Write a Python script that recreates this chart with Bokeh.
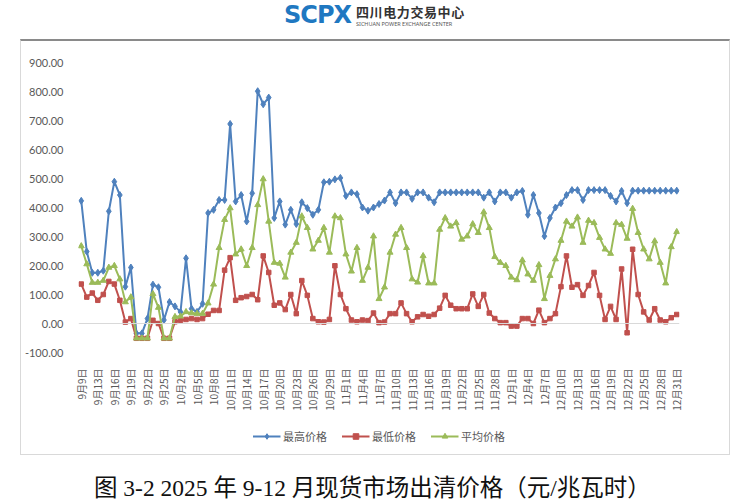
import math
from bokeh.plotting import figure
from bokeh.models import (Range1d, FixedTicker, Legend, LegendItem, Div, Span, Spacer,
                          NumeralTickFormatter, ColumnDataSource)
from bokeh.layouts import column, row
from bokeh.embed import file_html
from bokeh.resources import INLINE

# ---- data ----
dates = (["9月9日", "9月11日", "9月12日"]
         + [f"9月{d}日" for d in range(13, 28)]
         + [f"10月{d}日" for d in range(2, 32)]
         + [f"11月{d}日" for d in range(1, 31)]
         + [f"12月{d}日" for d in range(1, 32)])

high = [423, 248, 175, 175, 182, 387, 489, 443, 127, 193,
        -34, -34, 17, 134, 125, 12, 74, 59, 40, 225,
        51, 40, 68, 381, 392, 426, 426, 688, 421, 443,
        352, 449, 801, 756, 779, 364, 421, 341, 392, 343,
        418, 398, 375, 392, 487, 489, 497, 502, 440, 452,
        446, 400, 389, 400, 412, 424, 452, 415, 452, 452,
        430, 452, 452, 434, 418, 452, 452, 452, 452, 452,
        452, 452, 452, 434, 452, 421, 452, 452, 434, 452,
        457, 375, 443, 381, 301, 364, 400, 415, 443, 460,
        460, 426, 460, 460, 460, 460, 440, 421, 457, 415,
        458, 458, 458, 458, 458, 458, 458, 458, 458]

low = [136, 91, 105, 80, 100, 145, 136, 80, 5, 17,
       -51, -51, -51, 11, 0, -51, -51, 6, 11, 14,
       17, 14, 17, 32, 45, 45, 184, 227, 80, 89,
       93, 100, 82, 233, 176, 63, 71, 48, 100, 34,
       148, 97, 17, 6, 5, 14, 199, 100, 51, 12,
       6, 12, 10, 36, 3, 5, 34, 34, 71, 34,
       6, 23, 31, 25, 31, 53, 97, 63, 51, 51,
       51, 102, 59, 100, 36, 17, 3, 3, -9, -9,
       17, 17, 0, 46, 3, 17, 34, 127, 233, 125,
       134, 97, 131, 176, 97, 14, 59, 14, 188, -32,
       256, 100, 40, 12, 51, 12, 6, 20, 31]

avg = [267, 205, 141, 141, 148, 193, 199, 153, 74, 91,
       -51, -51, -51, 102, 55, -51, -51, 23, 25, 40,
       36, 34, 34, 70, 135, 261, 358, 398, 239, 256,
       199, 261, 409, 498, 352, 210, 207, 159, 245, 279,
       370, 330, 256, 286, 330, 245, 370, 364, 239, 180,
       261, 148, 193, 301, 85, 125, 245, 307, 330, 261,
       153, 142, 233, 139, 139, 324, 364, 335, 347, 290,
       301, 343, 313, 384, 330, 230, 210, 199, 159, 150,
       218, 170, 148, 202, 85, 165, 222, 286, 352, 335,
       366, 279, 355, 347, 296, 256, 241, 347, 341, 293,
       396, 313, 256, 222, 284, 210, 139, 264, 316]

series_names = ["最高价格", "最低价格", "平均价格"]
y_ticks = [-100, 0, 100, 200, 300, 400, 500, 600, 700, 800, 900]
label_every = 3
title_text = "图 3-2 2025 年 9-12 月现货市场出清价格（元/兆瓦时）"

BLUE, RED, GREEN = "#4F81BD", "#C0504D", "#9BBB59"
TXT = "#595959"
CJK = "'Noto Sans CJK SC'"
styles_spec = [("high", BLUE, "diamond", 7), ("low", RED, "square", 4.5), ("avg", GREEN, "triangle", 6)]

n = len(dates)
src = ColumnDataSource(dict(x=list(range(n)), date=dates, high=high, low=low, avg=avg))

p = figure(width=708, height=372, output_backend="svg", toolbar_location=None,
           x_range=Range1d(-0.5, n - 0.5), y_range=Range1d(y_ticks[0], y_ticks[-1]),
           min_border_left=57, min_border_right=14, min_border_top=21, min_border_bottom=59,
           outline_line_color=None, background_fill_color="white", border_fill_color="white")
p.grid.visible = False

# y axis
p.yaxis.ticker = FixedTicker(ticks=y_ticks)
p.yaxis.formatter = NumeralTickFormatter(format="0.00")
p.yaxis.axis_line_color = None
p.yaxis.major_tick_line_color = None
p.yaxis.minor_tick_line_color = None
p.yaxis.major_label_standoff = 9
p.yaxis.major_label_text_font = "Lato"
p.yaxis.major_label_text_font_size = "11px"
p.yaxis.major_label_text_color = TXT

# zero line
p.add_layout(Span(location=0, dimension="width", line_color="#d9d9d9", line_width=1))

# category labels
xa = p.xaxis[0]
lab_ticks = list(range(0, n, label_every))
xa.ticker = FixedTicker(ticks=lab_ticks)
xa.major_label_overrides = {i: dates[i] for i in lab_ticks}
xa.major_label_orientation = math.pi / 2
xa.axis_line_color = None
xa.major_tick_line_color = None
xa.minor_tick_line_color = None
xa.major_label_standoff = 10
xa.major_label_text_font = CJK
xa.major_label_text_font_size = "10px"
xa.major_label_text_color = TXT

for col, color, marker, size in styles_spec:
    p.line("x", col, source=src, line_color=color, line_width=2)
    p.scatter("x", col, source=src, marker=marker, size=size, color=color)

# legend strip (same styles; its sample point lies outside the visible range)
pl = figure(width=708, height=41, output_backend="svg", toolbar_location=None,
            x_range=Range1d(0, 1), y_range=Range1d(0, 1),
            x_axis_type=None, y_axis_type=None,
            min_border_left=6, min_border_right=50, min_border_top=5, min_border_bottom=0,
            outline_line_color=None, background_fill_color="white", border_fill_color="white")
pl.grid.visible = False
offscreen = ColumnDataSource(dict(x=[5, 6], y=[5, 6]))
items = []
for name, (col, color, marker, size) in zip(series_names, styles_spec):
    rl = pl.line("x", "y", source=offscreen, line_color=color, line_width=2)
    rm = pl.scatter("x", "y", source=offscreen, marker=marker, size=size, color=color)
    items.append(LegendItem(label=name, renderers=[rl, rm]))
legend = Legend(items=items, orientation="horizontal", location="center",
                border_line_color=None, background_fill_alpha=0,
                label_text_font=CJK, label_text_font_size="11px", label_text_color=TXT,
                glyph_width=28, glyph_height=14, label_standoff=3, spacing=14,
                padding=2, margin=0)
pl.add_layout(legend)

box = column(p, pl, styles={"border": "1px solid #d9d9d9", "border-top": "2px solid #8a8a8a"})

header = Div(width=740, height=29, text=(
    "<div style='position:relative;width:740px;height:29px;'>"
    "<span style=\"position:absolute;left:279px;top:-4px;font:bold 24px 'DejaVu Sans';"
    "color:#1f78c1;letter-spacing:-1px;\">SCPX</span>"
    "<span style=\"position:absolute;left:351px;top:0px;font:bold 13px 'Noto Sans CJK SC';"
    "line-height:14px;color:#333;letter-spacing:0.6px;\">四川电力交易中心</span>"
    "<span style=\"position:absolute;left:351px;top:16px;font:5.5px 'Noto Sans';color:#555;"
    "line-height:6px;white-space:nowrap;\">SICHUAN POWER EXCHANGE CENTER</span>"
    "</div>"))

caption = Div(width=740, height=36, text=(
    "<div style='position:relative;width:740px;height:36px;'>"
    "<span style=\"position:absolute;left:89px;top:9px;white-space:nowrap;line-height:24px;"
    "font:23.5px 'Liberation Serif','Noto Sans CJK SC';color:#111;\">"
    + title_text + "</span></div>"))

layout = column(header, row(Spacer(width=20), box), caption)
open("out.html", "w").write(file_html(layout, INLINE))
